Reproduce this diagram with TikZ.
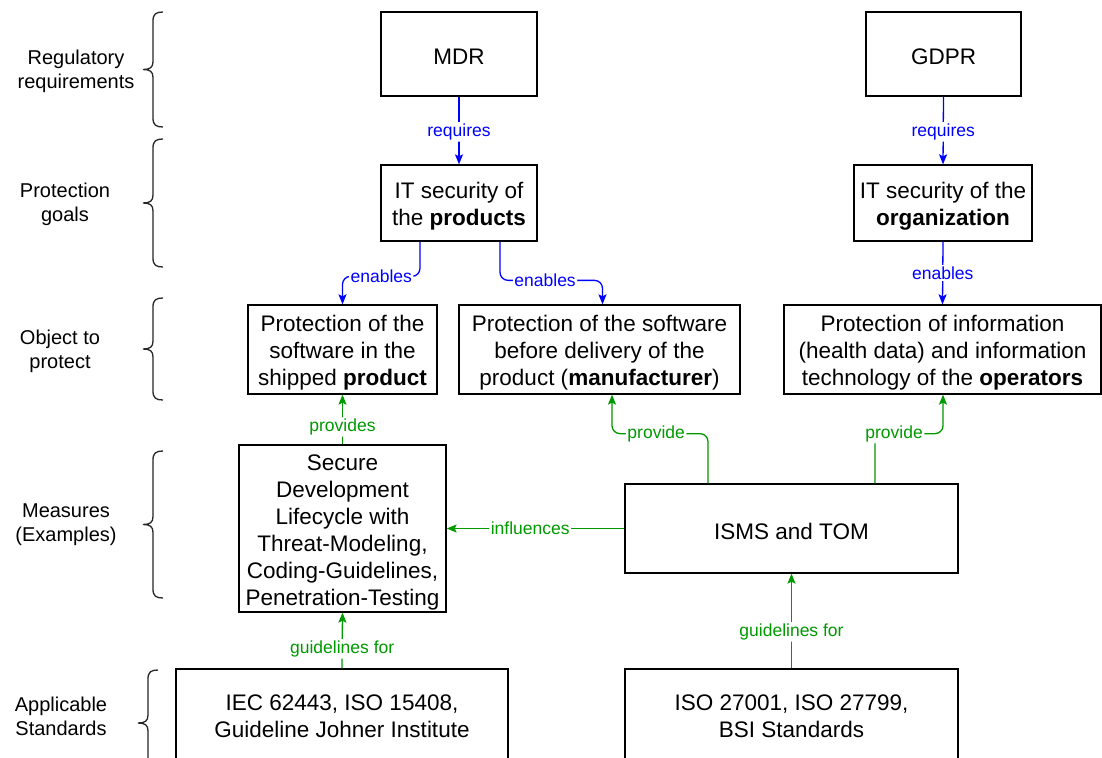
\documentclass[tikz,border=0pt]{standalone}
\usepackage{fontspec}
\setmainfont{Liberation Sans}
\usetikzlibrary{arrows.meta}
\definecolor{relblue}{HTML}{0000FF}
\definecolor{relgreen}{HTML}{009900}

\begin{document}
\begin{tikzpicture}[x=1pt,y=-1pt,
  box/.style={draw=black, line width=1.3pt, fill=white, inner sep=0pt},
  boxtext/.style={align=center, inner sep=0pt, yshift=-3pt,
    font=\fontsize{22.5}{27}\selectfont},
  layer/.style={align=center, inner sep=0pt, font=\fontsize{20}{24}\selectfont},
  conn/.style={line width=1.3pt, rounded corners=8pt,
    -{Stealth[length=10pt,width=8pt,inset=2pt]}},
  blueconn/.style={conn, draw=relblue},
  greenconn/.style={conn, draw=relgreen},
  lbl/.style={fill=white, inner sep=1.5pt, font=\fontsize{17.5}{20}\selectfont},
  bluelbl/.style={lbl, text=relblue},
  greenlbl/.style={lbl, text=relgreen},
  bracepath/.style={line width=1.3pt, draw=black!85}
]
\useasboundingbox (0,0) rectangle (1102,757);
\fill[white] (0,0) rectangle (1102,757);
\clip (0,0) rectangle (1102,757);

% layer captions
\node[layer] (capreg)  at (76,71)    {Regulatory\\requirements};
\node[layer] (capgoal) at (65,204.5) {Protection\\goals};
\node[layer] (capobj)  at (60,351.5) {Object to\\protect};
\node[layer] (capmeas) at (66,524.5) {Measures\\(Examples)};
\node[layer] (capstd)  at (61,716.5) {Applicable\\Standards};

% curly braces next to the captions
\foreach \btop/\bbot/\bsh in {12/127/0, 139/267/0, 298/400/0, 451/598/0, 670/776/-5} {
  \pgfmathsetmacro\bmid{(\btop+\bbot)/2}
  \draw[bracepath]
    (163+\bsh,\btop) .. controls (156+\bsh,\btop) and (153+\bsh,\btop+2) .. (153+\bsh,\btop+9)
    -- (153+\bsh,\bmid-8) .. controls (153+\bsh,\bmid-2) and (150+\bsh,\bmid) .. (143+\bsh,\bmid)
    .. controls (150+\bsh,\bmid) and (153+\bsh,\bmid+2) .. (153+\bsh,\bmid+8)
    -- (153+\bsh,\bbot-9) .. controls (153+\bsh,\bbot-2) and (156+\bsh,\bbot) .. (163+\bsh,\bbot);
}

% regulatory requirements
\node[box, minimum width=156pt, minimum height=84pt,
  label={[boxtext]center:MDR}] (mdr) at (459,54) {};
\node[box, minimum width=155pt, minimum height=84pt,
  label={[boxtext]center:GDPR}] (gdpr) at (943.5,54) {};

% protection goals
\node[box, minimum width=156pt, minimum height=76pt,
  label={[boxtext]center:{IT security of\\the \textbf{products}}}] (itp) at (459,203) {};
\node[box, minimum width=178pt, minimum height=76pt,
  label={[boxtext]center:{IT security of the\\\textbf{organization}}}] (ito) at (943,203) {};

% objects to protect
\node[box, minimum width=189pt, minimum height=89pt,
  label={[boxtext]center:{Protection of the\\software in the\\shipped \textbf{product}}}]
  (ship) at (342.5,349.5) {};
\node[box, minimum width=281pt, minimum height=89pt,
  label={[boxtext]center:{Protection of the software\\before delivery of the\\product (\textbf{manufacturer})}}]
  (bd) at (599.5,349.5) {};
\node[box, minimum width=317pt, minimum height=89pt,
  label={[boxtext]center:{Protection of information\\(health data) and information\\technology of the \textbf{operators}}}]
  (pi) at (942.5,349.5) {};

% measures
\node[box, minimum width=207pt, minimum height=167pt,
  label={[boxtext,yshift=-1pt]center:{Secure\\Development\\Lifecycle with\\Threat-Modeling,\\Coding-Guidelines,\\Penetration-Testing}}]
  (secdev) at (342.5,528.5) {};
\node[box, minimum width=333pt, minimum height=89pt,
  label={[boxtext]center:{ISMS and TOM}}] (isms) at (791.5,528.5) {};

% standards
\node[box, minimum width=332pt, minimum height=92pt,
  label={[boxtext,yshift=1.5pt]center:{IEC 62443, ISO 15408,\\Guideline Johner Institute}}]
  (iec) at (342,715) {};
\node[box, minimum width=333pt, minimum height=92pt,
  label={[boxtext,yshift=1.5pt]center:{ISO 27001, ISO 27799,\\BSI Standards}}]
  (iso) at (791.5,715) {};

% regulatory links
\draw[blueconn] (mdr.south) -- node[bluelbl,pos=0.52]{requires} (itp.north);
\draw[blueconn] (gdpr.south) -- node[bluelbl,pos=0.52]{requires} (ito.north);
\draw[blueconn] ([xshift=-39pt]itp.south) |- node[bluelbl,pos=0.75]{enables}
  ([yshift=28pt]ship.north) -- (ship.north);
\draw[blueconn] ([xshift=41pt]itp.south) |- node[bluelbl,pos=0.72]{enables}
  ([xshift=3pt,yshift=24pt]bd.north) -- ([xshift=3pt]bd.north);
\draw[blueconn] (ito.south) -- node[bluelbl]{enables} (pi.north);

% measures and standards
\draw[greenconn] (secdev.north) -- node[greenlbl,pos=0.35]{provides} (ship.south);
\draw[greenconn] ([xshift=-83.5pt]isms.north) |- node[greenlbl,pos=0.77]{provide}
  ([xshift=12.5pt,yshift=-39pt]bd.south) -- ([xshift=12.5pt]bd.south);
\draw[greenconn] ([xshift=83.5pt]isms.north) |- node[greenlbl,pos=0.64]{provide}
  ([xshift=0.5pt,yshift=-39pt]pi.south) -- ([xshift=0.5pt]pi.south);
\draw[greenconn] (isms.west) -- node[greenlbl,pos=0.53]{influences} (secdev.east);
\draw[greenconn] (iec.north) -- node[greenlbl,pos=0.35]{guidelines for} (secdev.south);
\draw[greenconn] (iso.north) -- node[greenlbl,pos=0.385]{guidelines for} (isms.south);
\end{tikzpicture}
\end{document}
